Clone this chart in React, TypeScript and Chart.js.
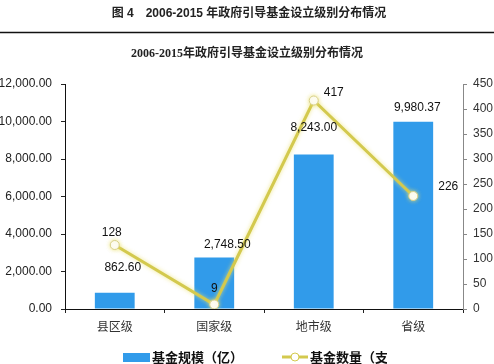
import React, { useEffect, useRef } from "react";
import { Chart, registerables } from "chart.js";

Chart.register(...registerables);

const categories = ["县区级", "国家级", "地市级", "省级"];
const fundSize = [862.6, 2748.5, 8243.0, 9980.37];
const fundCount = [128, 9, 417, 226];
const leftTicksMax = 12000;
const rightTicksMax = 450;

const headerText = "图 4\u30002006-2015 年政府引导基金设立级别分布情况";
const chartTitle = "2006-2015年政府引导基金设立级别分布情况";
const legendBar = "基金规模（亿）";
const legendLine = "基金数量（支）";

// label offsets (style only)
const barLabelOffsets = [
  [8, -25],
  [13, -13],
  [0, -27],
  [4, -14],
];
const lineLabelOffsets = [
  [-3, -12],
  [0, -16],
  [20, -8],
  [35, -9],
];

const BAR_COLOR = "#319BEA";
const LINE_COLOR = "#D3C94E";

const fmt2 = (v: number) =>
  v.toLocaleString("en-US", { minimumFractionDigits: 2, maximumFractionDigits: 2 });

const decorPlugin = {
  id: "decor",
  beforeDatasetDraw(chart: any, args: any) {
    if (args.index === 1) {
      const ctx = chart.ctx;
      ctx.save();
      ctx.shadowColor = "rgba(235,225,110,0.8)";
      ctx.shadowBlur = 4;
    }
  },
  afterDatasetDraw(chart: any, args: any) {
    if (args.index === 1) chart.ctx.restore();
  },
  afterDraw(chart: any) {
    const ctx = chart.ctx;
    const W = chart.width;
    ctx.save();
    // header
    ctx.fillStyle = "#222";
    ctx.textAlign = "center";
    ctx.textBaseline = "middle";
    ctx.font = "bold 12px 'Liberation Sans', 'Noto Sans CJK SC'";
    ctx.fillText(headerText, 249, 14);
    ctx.strokeStyle = "#111";
    ctx.lineWidth = 1.5;
    ctx.beginPath();
    ctx.moveTo(0, 32.5);
    ctx.lineTo(W, 32.5);
    ctx.stroke();
    ctx.font = "bold 12px 'Liberation Serif', 'Noto Sans CJK SC'";
    ctx.fillText(chartTitle, 247, 54);

    // data labels
    ctx.font = "12px 'Liberation Sans', Arial";
    ctx.fillStyle = "#111";
    const m0 = chart.getDatasetMeta(0);
    const m1 = chart.getDatasetMeta(1);
    m0.data.forEach((el: any, i: number) => {
      const [dx, dy] = barLabelOffsets[i];
      ctx.fillText(fmt2(fundSize[i]), el.x + dx, el.y + dy);
    });
    m1.data.forEach((el: any, i: number) => {
      const [dx, dy] = lineLabelOffsets[i];
      ctx.fillText(String(fundCount[i]), el.x + dx, el.y + dy);
    });

    // legend
    const ly = 357;
    ctx.fillStyle = BAR_COLOR;
    ctx.fillRect(123, ly - 4, 27, 9);
    ctx.font = "bold 13px 'Noto Sans CJK SC'";
    ctx.fillStyle = "#111";
    ctx.textAlign = "left";
    ctx.fillText(legendBar, 152, ly);
    ctx.strokeStyle = LINE_COLOR;
    ctx.lineWidth = 3;
    ctx.beginPath();
    ctx.moveTo(282, ly);
    ctx.lineTo(308, ly);
    ctx.stroke();
    ctx.fillStyle = "#fff";
    ctx.lineWidth = 1;
    ctx.beginPath();
    ctx.arc(295, ly, 4, 0, Math.PI * 2);
    ctx.fill();
    ctx.stroke();
    ctx.beginPath();
    ctx.rect(0, 0, 387, chart.height);
    ctx.clip();
    ctx.fillStyle = "#111";
    ctx.fillText(legendLine, 310, ly);
    ctx.restore();
  },
};

export default function App() {
  const ref = useRef<HTMLCanvasElement>(null);
  useEffect(() => {
    if (!ref.current) return;
    const chart = new Chart(ref.current, {
      type: "bar",
      data: {
        labels: categories,
        datasets: [
          {
            type: "bar",
            label: legendBar,
            data: fundSize,
            backgroundColor: BAR_COLOR,
            barPercentage: 0.4,
            categoryPercentage: 1,
            yAxisID: "y",
            order: 2,
          },
          {
            type: "line",
            label: legendLine,
            data: fundCount,
            borderColor: LINE_COLOR,
            borderWidth: 3,
            pointRadius: 4.5,
            pointBackgroundColor: "#fff",
            pointBorderColor: "#D8D08A",
            pointBorderWidth: 1,
            tension: 0,
            yAxisID: "y1",
            order: 1,
          } as any,
        ],
      },
      options: {
        responsive: false,
        animation: false,
        devicePixelRatio: 1,
        layout: { padding: { top: 84, bottom: 0, left: 0, right: 0 } },
        plugins: {
          legend: { display: false },
          title: { display: false },
          tooltip: { enabled: false },
        },
        scales: {
          x: {
            offset: true,
            grid: {
              display: true,
              drawOnChartArea: false,
              offset: true,
              color: "#222",
              tickLength: 4,
            },
            border: { display: true, color: "#111", width: 1 },
            ticks: {
              color: "#333",
              padding: 6,
              font: { family: "'Noto Sans CJK SC'", size: 12 },
            },
            afterFit: (s: any) => {
              s.height = 55;
            },
          },
          y: {
            position: "left",
            min: 0,
            max: leftTicksMax,
            grid: { drawOnChartArea: false, color: "#222", tickLength: 4 },
            border: { display: true, color: "#111", width: 1 },
            ticks: {
              stepSize: 2000,
              color: "#222",
              padding: 9,
              font: { family: "'Liberation Sans', Arial", size: 12 },
              callback: (v: any) => fmt2(Number(v)),
            },
            afterFit: (s: any) => {
              s.width = 65;
            },
          },
          y1: {
            position: "right",
            min: 0,
            max: rightTicksMax,
            grid: { drawOnChartArea: false, color: "#888", tickLength: 4 },
            border: { display: true, color: "#888", width: 1 },
            ticks: {
              stepSize: 50,
              color: "#333",
              padding: 6,
              font: { family: "'Liberation Sans', Arial", size: 12 },
            },
            afterFit: (s: any) => {
              s.width = 31;
            },
          },
        },
      },
      plugins: [decorPlugin],
    });
    return () => chart.destroy();
  }, []);
  return (
    <div style={{ position: "fixed", left: 0, top: 0, width: 494, height: 364, background: "#fff" }}>
      <canvas ref={ref} width={494} height={364} style={{ display: "block" }} />
    </div>
  );
}
